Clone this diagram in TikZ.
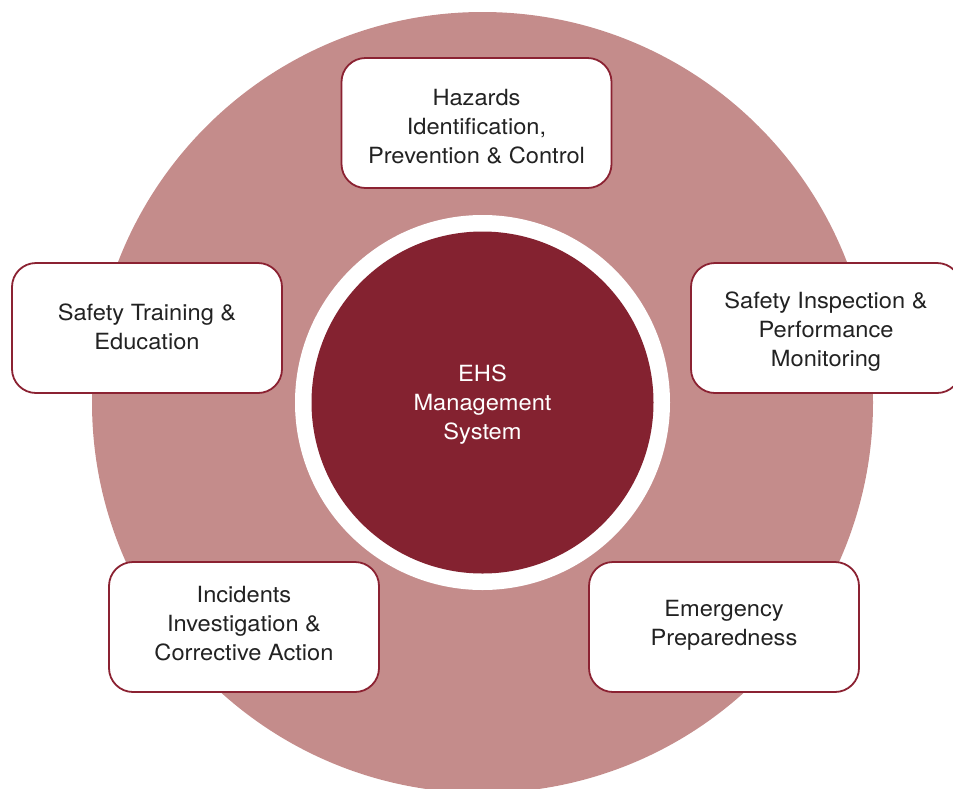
\documentclass[tikz,border=0pt]{standalone}
\usepackage{fontspec}
\setmainfont{TeX Gyre Heros}[FakeStretch=1.06]
\definecolor{ringpink}{HTML}{C48C8B}
\definecolor{coredark}{HTML}{842230}
\definecolor{boxline}{HTML}{8B2232}
\definecolor{txtgray}{HTML}{222222}
\begin{document}
\begin{tikzpicture}[x=1pt,y=-1pt,
  topic/.style={draw=boxline,line width=1.8pt,fill=white,rounded corners=24pt,
    minimum width=270pt,minimum height=130pt,inner sep=0pt},
  topictext/.style={align=center,inner sep=0pt,text depth=0pt,
    text=txtgray,font=\fontsize{22.3}{29}\selectfont},
  core/.style={circle,fill=coredark,minimum size=342pt,inner sep=0pt},
  coretext/.style={align=center,inner sep=0pt,text depth=0pt,
    text=white,font=\fontsize{22.3}{29}\selectfont}]
\useasboundingbox (0,0) rectangle (953,788);
\begin{scope}
\clip (0,0) rectangle (953,788);
\fill[ringpink] (482.5,402.5) circle[radius=390.5pt];
\fill[white] (482.5,402.5) circle[radius=187.5pt];
\node[core,label={[coretext]center:EHS\\Management\\System}] (ehs) at (482.5,402.5) {};
\node[topic,label={[topictext,yshift=-3pt]center:Hazards\\Identification,\\Prevention \& Control}] (hazards) at (476.5,123) {};
\node[topic,label={[topictext,yshift=1.3pt]center:Safety Training \&\\Education}] (training) at (147,328) {};
\node[topic,label={[topictext,yshift=-1pt]center:Safety Inspection \&\\Performance\\Monitoring}] (inspection) at (826,328) {};
\node[topic,label={[topictext,yshift=3.7pt]center:Incidents\\Investigation \&\\Corrective Action}] (incidents) at (244,627) {};
\node[topic,label={[topictext,yshift=3.7pt]center:Emergency\\Preparedness}] (emergency) at (724,627) {};
\end{scope}
\end{tikzpicture}
\end{document}
